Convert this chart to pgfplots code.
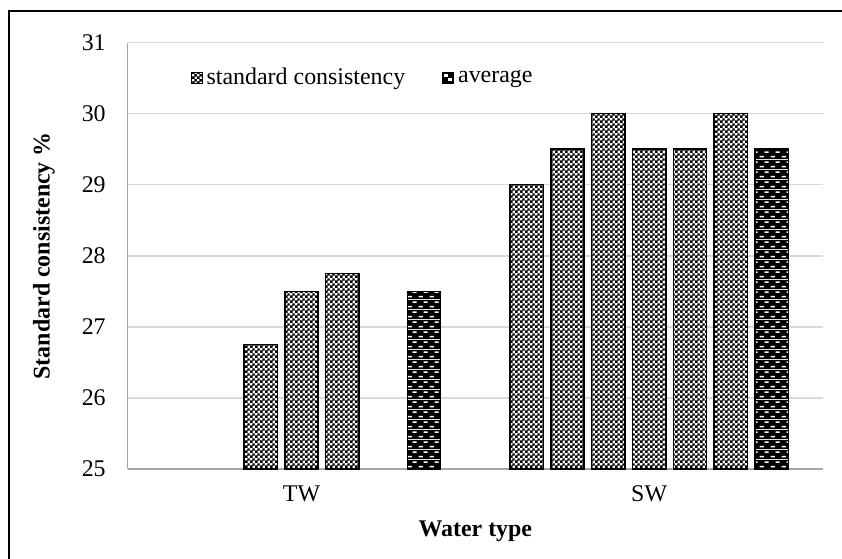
\documentclass[border=0pt]{standalone}
\usepackage{fontspec}
\setmainfont{Liberation Serif}
\usepackage{pgfplots}
\pgfplotsset{compat=1.18}
\usetikzlibrary{patterns}
\definecolor{gridc}{HTML}{D9D9D9}
\definecolor{axc}{HTML}{A6A6A6}

\pgfdeclarepatterninherentlycolored{chk}{\pgfpointorigin}{\pgfqpoint{2.4bp}{2.4bp}}{\pgfqpoint{2.4bp}{2.4bp}}{%
  \pgfsetfillcolor{white}%
  \pgfpathrectangle{\pgfpointorigin}{\pgfqpoint{2.4bp}{2.4bp}}\pgfusepath{fill}%
  \pgfsetfillcolor{black}%
  \pgfpathrectangle{\pgfpointorigin}{\pgfqpoint{1.35bp}{1.35bp}}%
  \pgfpathrectangle{\pgfqpoint{1.2bp}{1.2bp}}{\pgfqpoint{1.2bp}{1.2bp}}\pgfusepath{fill}%
}
\pgfdeclarepatterninherentlycolored{avgpat}{\pgfpointorigin}{\pgfqpoint{5.5bp}{5bp}}{\pgfqpoint{5.5bp}{5bp}}{%
  \pgfsetfillcolor{black}%
  \pgfpathrectangle{\pgfpointorigin}{\pgfqpoint{5.5bp}{5bp}}\pgfusepath{fill}%
  \pgfsetfillcolor{white}%
  \pgfpathrectangle{\pgfqpoint{0.4bp}{0.9bp}}{\pgfqpoint{2.2bp}{0.8bp}}%
  \pgfpathrectangle{\pgfqpoint{3.1bp}{3.4bp}}{\pgfqpoint{2.2bp}{0.8bp}}\pgfusepath{fill}%
}

\pgfplotstableread{
x y
-0.1175 26.75
0 27.5
0.1175 27.75
0.6475 29
0.765 29.5
0.8825 30
1.0 29.5
1.1175 29.5
1.235 30
}\stdtab
\pgfplotstableread{
x y
0.3525 27.5
1.3525 29.5
}\avgtab

\begin{document}
\begin{tikzpicture}
\begin{axis}[
  name=ax, at={(0,0)}, anchor=south west,
  scale only axis, width=347.65bp, height=213.25bp,
  xmin=-0.5, xmax=1.5, ymin=25, ymax=31,
  ytick={25,26,27,28,29,30,31},
  xtick={0,1}, xticklabels={TW,SW},
  major tick length=0pt,
  axis x line*=bottom, axis y line*=left,
  axis line style={draw=axc, line width=0.75bp},
  ymajorgrids, grid style={draw=gridc, line width=0.75bp},
  /pgf/number format/assume math mode=true,
  tick label style={font=\fontsize{12}{14}\selectfont, text=black},
  yticklabel style={xshift=-7.5bp},
  xticklabel style={yshift=-5bp},
  xlabel={\textbf{Water type}}, ylabel={\textbf{Standard consistency \%}},
  every axis x label/.style={at={(axis description cs:0.5,-0.1454)}, anchor=center, font=\fontsize{12}{14}\selectfont},
  every axis y label/.style={at={(axis description cs:-0.1204,0.5)}, anchor=center, rotate=90, font=\fontsize{12}{14}\selectfont},
  ybar, bar width=0.0958, bar shift=0pt,
  legend style={at={(axis description cs:0.0900,0.917)}, anchor=west, draw=none, fill=none,
    font=\fontsize{12}{14}\selectfont, inner sep=0pt,
    /tikz/every even column/.append style={column sep=16.5bp}},
  legend columns=2,
  legend cell align=left,
]
\addplot[draw=black, line width=0.75bp, pattern=chk,
  legend image code/.code={\draw[draw=black, line width=0.5bp, pattern=chk] (0bp,-2.75bp) rectangle (5.5bp,2.75bp);}]
  table[x=x,y=y] {\stdtab};
\addlegendentry{standard consistency}
\addplot[draw=black, line width=0.75bp, pattern=avgpat,
  legend image code/.code={\draw[draw=black, line width=0.5bp, fill=black] (0bp,-2.75bp) rectangle (5.5bp,2.75bp); \fill[white] (1bp,0.6bp) rectangle (2.5bp,1.4bp); \fill[white] (3bp,-1.4bp) rectangle (4.5bp,-0.6bp);}]
  table[x=x,y=y] {\avgtab};
\addlegendentry{average}
\end{axis}
\draw[line width=0.75bp, black] ([shift={(-59.35bp,-60bp)}]ax.south west) -- ([shift={(-59.35bp,229bp)}]ax.south west) -- ([shift={(370bp,229bp)}]ax.south west);
\pgfresetboundingbox
\useasboundingbox ([shift={(-63.85bp,-45bp)}]ax.south west) rectangle ([shift={(357.15bp,234.5bp)}]ax.south west);
\end{tikzpicture}
\end{document}
